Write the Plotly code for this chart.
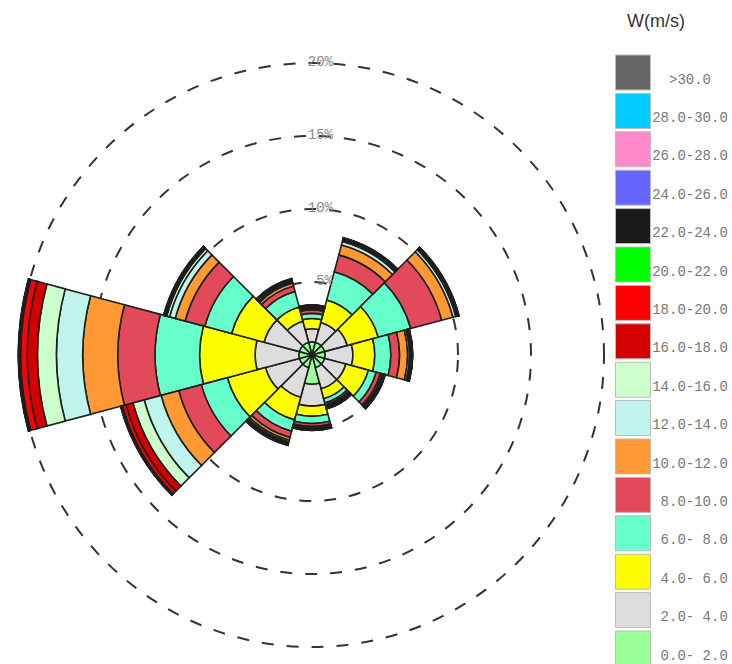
import plotly.graph_objects as go

# Direction of each sector (compass degrees, clockwise from north)
directions = [0, 30, 60, 90, 120, 150, 180, 210, 240, 270, 300, 330]

# Speed classes, from calm to strongest
speed_labels = ["0.0- 2.0", "2.0- 4.0", "4.0- 6.0", "6.0- 8.0", "8.0-10.0",
                "10.0-12.0", "12.0-14.0", "14.0-16.0", "16.0-18.0", "18.0-20.0",
                "20.0-22.0", "22.0-24.0", "24.0-26.0", "26.0-28.0", "28.0-30.0", ">30.0"]
speed_colors = ["#99FF99", "#DDDDDD", "#FFFF00", "#66FFCC", "#E24A5A",
                "#FF9933", "#BFF5EC", "#CCFFCC", "#D40000", "#FF0000",
                "#00FF00", "#1A1A1A", "#6666FF", "#FF8ACB", "#00CCFF", "#666666"]

# Frequency (%) of each speed class per direction
freq_0_2   = [0.90, 0.90, 0.90, 0.90, 0.90, 0.90, 2.00, 0.90, 0.90, 0.90, 0.90, 0.90]
freq_2_4   = [0.90, 1.40, 1.60, 1.90, 1.50, 1.50, 1.50, 2.10, 2.40, 3.00, 2.50, 1.50]
freq_4_6   = [0.70, 1.60, 2.20, 1.50, 1.60, 0.70, 0.70, 1.60, 2.70, 3.80, 2.30, 1.00]
freq_6_8   = [0.35, 2.00, 2.30, 1.10, 0.55, 0.30, 0.50, 0.80, 1.85, 3.05, 1.90, 1.10]
freq_8_10  = [0.25, 1.20, 2.20, 0.60, 0.30, 0.15, 0.20, 0.45, 1.60, 2.55, 1.40, 0.40]
freq_10_12 = [0.10, 0.70, 0.80, 0.55, 0.12, 0.07, 0.07, 0.20, 1.25, 2.40, 0.70, 0.20]
freq_12_14 = [0.06, 0.25, 0.20, 0.13, 0.06, 0.04, 0.04, 0.12, 1.20, 1.80, 0.40, 0.10]
freq_14_16 = [0.04, 0.10, 0.07, 0.06, 0.04, 0.03, 0.03, 0.07, 0.80, 1.30, 0.20, 0.05]
freq_16_18 = [0.03, 0.05, 0.04, 0.04, 0.03, 0.02, 0.02, 0.04, 0.50, 0.70, 0.08, 0.05]
freq_18_20 = [0.02, 0.03, 0.03, 0.03, 0.02, 0.02, 0.02, 0.03, 0.25, 0.45, 0.05, 0.03]
freq_20_22 = [0.02, 0.02, 0.02, 0.02, 0.02, 0.02, 0.02, 0.02, 0.05, 0.08, 0.02, 0.02]
freq_22_24 = [0.03, 0.03, 0.03, 0.03, 0.02, 0.04, 0.03, 0.04, 0.04, 0.04, 0.03, 0.03]
freq_24_26 = [0.01] * 12
freq_26_28 = [0.01] * 12
freq_28_30 = [0.01] * 12
freq_30_up = [0.01] * 12

speed_freqs = [freq_0_2, freq_2_4, freq_4_6, freq_6_8, freq_8_10, freq_10_12,
               freq_12_14, freq_14_16, freq_16_18, freq_18_20, freq_20_22,
               freq_22_24, freq_24_26, freq_26_28, freq_28_30, freq_30_up]

ring_values = [5, 10, 15, 20]
ring_labels = ["5%", "10%", "15%", "20%"]

fig = go.Figure()

# Stacked wind-rose sectors
for label, color, freq in zip(speed_labels, speed_colors, speed_freqs):
    fig.add_trace(go.Barpolar(
        r=freq, theta=directions, width=30, name=label,
        marker=dict(color=color, line=dict(color="#1E1E1E", width=1.6)),
        showlegend=False, hoverinfo="skip"))

# Percentage labels on the rings (padded so they line up on the right)
fig.add_trace(go.Scatterpolar(
    r=ring_values, theta=[0] * len(ring_values), mode="text",
    text=[("\u00a0" * (5 - len(t))) + t for t in ring_labels],
    textposition="middle center",
    textfont=dict(family="Liberation Mono", size=14, color="#8A8A8A"),
    showlegend=False, hoverinfo="skip", cliponaxis=False))

# Colour key on the right
key_rows = list(range(len(speed_labels)))
key_labels = list(reversed(speed_labels))
key_colors = list(reversed(speed_colors))
fig.add_trace(go.Scatter(
    x=[33] * len(key_rows), y=key_rows, mode="markers",
    marker=dict(symbol="square", size=35, color=key_colors,
                line=dict(color="#BBBBBB", width=1)),
    xaxis="x2", yaxis="y2", showlegend=False, hoverinfo="skip", cliponaxis=False))
fig.add_trace(go.Scatter(
    x=[90] * len(key_rows), y=[r + 0.2 for r in key_rows], mode="text",
    text=[(("\u00a0" * (9 - len(t))) + t) if t[0] != ">" else t for t in key_labels],
    textposition="middle center",
    textfont=dict(family="Liberation Mono", size=14, color="#777777"),
    xaxis="x2", yaxis="y2", showlegend=False, hoverinfo="skip", cliponaxis=False))

fig.update_layout(
    width=732, height=664,
    margin=dict(l=0, r=0, t=0, b=0),
    paper_bgcolor="white",
    plot_bgcolor="rgba(0,0,0,0)",
    polar=dict(
        domain=dict(x=[0.00738, 0.8451], y=[0.00361, 0.9271]),
        bgcolor="rgba(0,0,0,0)",
        barmode="stack",
        angularaxis=dict(rotation=90, direction="clockwise", showline=False,
                         showgrid=False, showticklabels=False, ticks=""),
        radialaxis=dict(range=[0, 21], tickvals=ring_values, showticklabels=False,
                        showline=False, ticks="", showgrid=True,
                        gridcolor="#333333", gridwidth=2, griddash="12px,13px"),
    ),
    xaxis2=dict(domain=[600 / 732, 1], range=[0, 132], visible=False,
                anchor="y2", fixedrange=True),
    yaxis2=dict(domain=[0, 1], range=[15.404, -1.888], visible=False,
                anchor="x2", fixedrange=True),
    annotations=[dict(text="W(m/s)", x=656 / 732, y=1 - 21 / 664,
                      xref="paper", yref="paper", xanchor="center", yanchor="middle",
                      showarrow=False,
                      font=dict(family="Liberation Sans", size=18, color="#333333"))],
)

fig.write_html("out.html")
